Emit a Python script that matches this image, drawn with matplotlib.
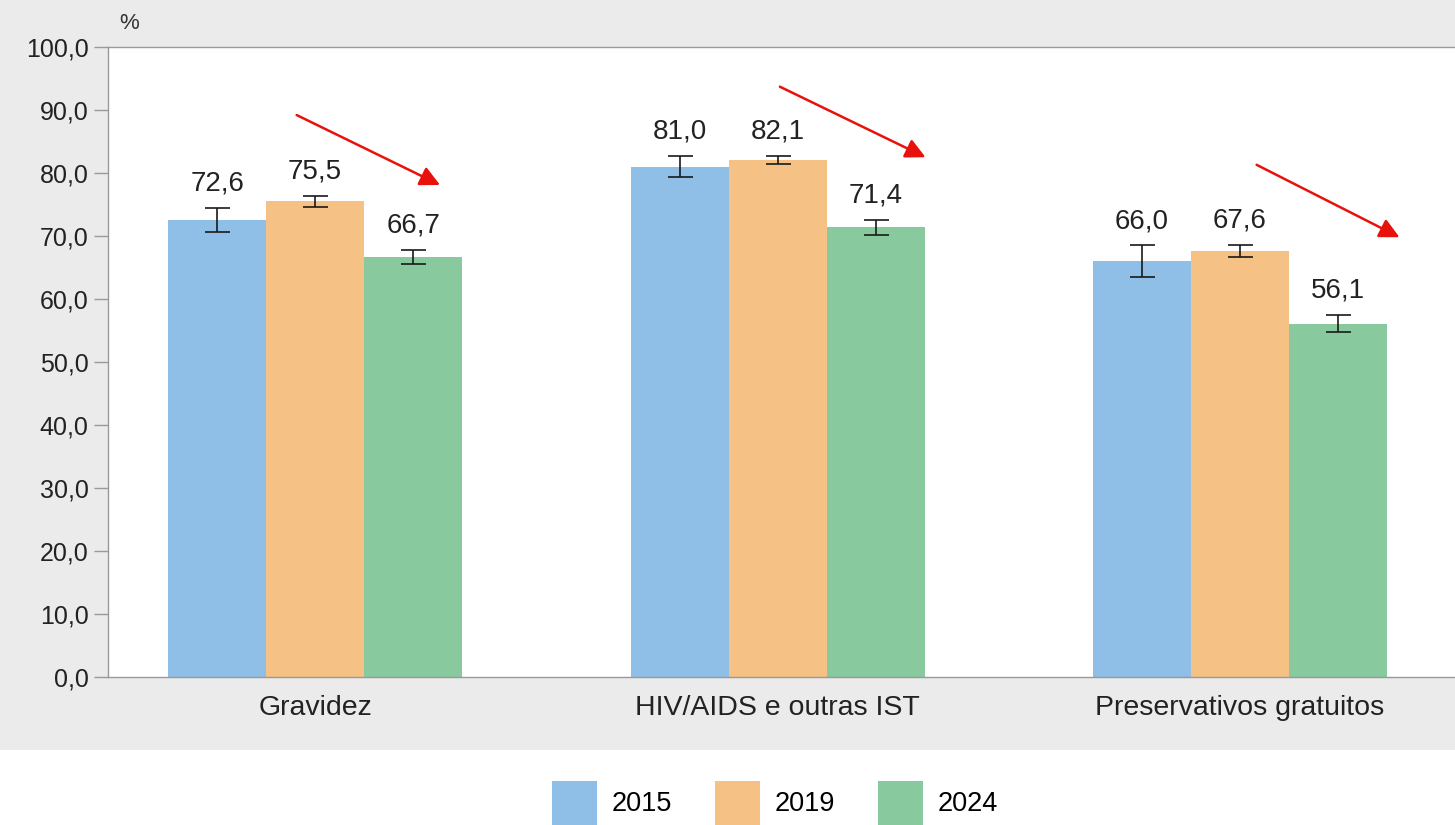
import matplotlib.pyplot as plt
import numpy as np
from matplotlib.patches import Rectangle

plt.rcParams['font.family'] = ['Liberation Sans', 'DejaVu Sans']

categories = ['Gravidez', 'HIV/AIDS e outras IST', 'Preservativos gratuitos']
years = ['2015', '2019', '2024']
values = {
    '2015': [72.6, 81.0, 66.0],
    '2019': [75.5, 82.1, 67.6],
    '2024': [66.7, 71.4, 56.1],
}
errors = {
    '2015': [1.9, 1.7, 2.5],
    '2019': [0.9, 0.6, 1.0],
    '2024': [1.1, 1.2, 1.4],
}
colors = ['#8FBEE6', '#F6C185', '#88CA9E']
yticks = np.arange(0, 101, 10)

# trend arrows: (x0, y0, x1, y1) in group / percent units
arrows = [(-0.04, 89.2, 0.27, 78.1), (1.005, 93.7, 1.32, 82.5), (2.036, 81.3, 2.345, 69.8)]

fig = plt.figure(figsize=(14.55, 8.25), dpi=100)
fig.patch.set_facecolor('white')
fig.add_artist(Rectangle((0, 1 - 750 / 825), 1, 750 / 825, transform=fig.transFigure,
                         facecolor='#EBEBEB', edgecolor='none', zorder=0))

ax = fig.add_axes([108 / 1455, 1 - 677 / 825, 1 - 108 / 1455, 630 / 825])
ax.set_facecolor('white')

x = np.arange(len(categories))
w = 0.212
for i, yr in enumerate(years):
    pos = x + (i - 1) * w
    ax.bar(pos, values[yr], width=w, color=colors[i], label=yr, zorder=2)
    ax.errorbar(pos, values[yr], yerr=errors[yr], fmt='none', ecolor='#1a1a1a',
                elinewidth=1.2, capsize=9, capthick=1.2, zorder=3)
    for p, v, e in zip(pos, values[yr], errors[yr]):
        ax.annotate(f'{v:.1f}'.replace('.', ','), (p, v + e), xytext=(0, 8),
                    textcoords='offset points', ha='center', va='bottom',
                    fontsize=20, color='#222222')

for x0, y0, x1, y1 in arrows:
    ax.annotate('', xy=(x1, y1), xytext=(x0, y0),
                arrowprops=dict(arrowstyle='-|>', color='#E8120C', lw=1.8,
                                mutation_scale=30, shrinkA=0, shrinkB=0), zorder=4)

ax.set_ylim(0, 100)
ax.set_xlim(-0.448, 2.465)
ax.set_yticks(yticks)
ax.set_yticklabels([f'{t:.1f}'.replace('.', ',') for t in yticks], fontsize=18, color='#222222')
ax.set_xticks(x)
ax.set_xticklabels(categories, fontsize=20.5, color='#222222')
ax.tick_params(axis='x', length=0, pad=13)
ax.tick_params(axis='y', length=10, width=1, color='#999999', pad=4)
for side in ['left', 'bottom', 'top']:
    ax.spines[side].set_color('#999999')
    ax.spines[side].set_linewidth(1)
ax.spines['right'].set_visible(False)

ax.text(0.008, 1.02, '%', transform=ax.transAxes, fontsize=16, color='#333333',
        ha='left', va='bottom')

fig.legend(loc='center', bbox_to_anchor=(775 / 1455, 1 - 803 / 825), ncol=3, frameon=False,
           fontsize=19.5, handlelength=1.67, handleheight=2.15, handletextpad=0.52,
           columnspacing=1.6, borderpad=0)

fig.savefig('out.png', dpi=100, facecolor=fig.get_facecolor())
